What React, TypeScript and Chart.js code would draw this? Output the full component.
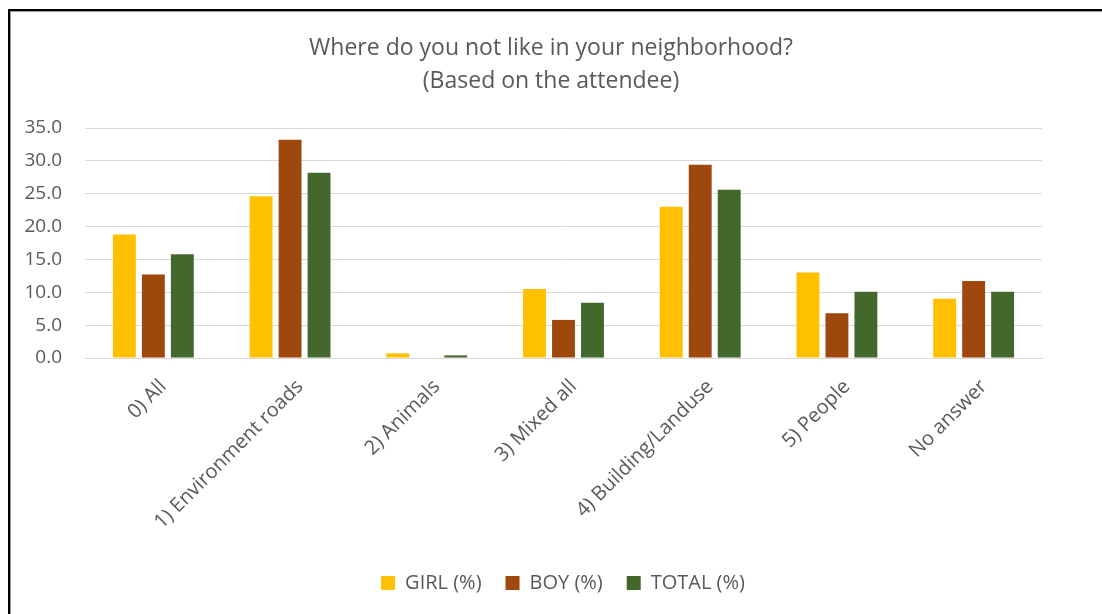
import React, { useEffect, useRef } from "react";
import { Chart, registerables } from "chart.js";

Chart.register(...registerables);

const categories = [
  "0) All",
  "1) Environment roads",
  "2) Animals",
  "3) Mixed all",
  "4) Building/Landuse",
  "5) People",
  "No answer",
];
const girlValues = [18.8, 24.6, 0.7, 10.5, 23.0, 13.0, 9.0];
const boyValues = [12.7, 33.2, 0, 5.8, 29.4, 6.8, 11.7];
const totalValues = [15.8, 28.2, 0.4, 8.4, 25.6, 10.1, 10.1];
const seriesNames = ["GIRL (%)", "BOY (%)", "TOTAL (%)"];
const titleLines = ["Where do you not like in your neighborhood?", "(Based on the attendee)"];

const FONT = "'Open Sans', 'DejaVu Sans', sans-serif";
const TEXT = "#595959";

const shiftLegend = {
  id: "shiftLegend",
  afterLayout(chart: any) {
    const lg = chart.legend;
    if (lg) {
      lg.left += 12;
      lg.right += 12;
    }
  },
};

export default function App() {
  const ref = useRef<HTMLCanvasElement | null>(null);

  useEffect(() => {
    if (!ref.current) return;
    const chart = new Chart(ref.current, {
      type: "bar",
      data: {
        labels: categories,
        datasets: [
          { label: seriesNames[0], data: girlValues, backgroundColor: "#FFC000" },
          { label: seriesNames[1], data: boyValues, backgroundColor: "#9E480E" },
          { label: seriesNames[2], data: totalValues, backgroundColor: "#43682B" },
        ],
      },
      plugins: [shiftLegend],
      options: {
        animation: false,
        responsive: false,
        devicePixelRatio: 1,
        layout: { padding: { left: 0, right: 0, top: 0, bottom: 11 } },
        datasets: {
          bar: { categoryPercentage: 0.636, barPercentage: 0.79 },
        },
        plugins: {
          title: {
            display: true,
            text: titleLines,
            color: TEXT,
            font: { family: FONT, size: 23, weight: "normal", lineHeight: 1.435 },
            padding: { top: 32, bottom: 30 },
          },
          legend: {
            position: "bottom",
            labels: {
              color: TEXT,
              font: { family: FONT, size: 20 },
              boxWidth: 14,
              boxHeight: 14,
              padding: 24,
            },
          },
          tooltip: { enabled: false },
        },
        scales: {
          x: {
            grid: { display: false },
            border: { display: true, color: "#D9D9D9", width: 1 },
            ticks: {
              color: TEXT,
              font: { family: FONT, size: 20 },
              minRotation: 45,
              maxRotation: 45,
              autoSkip: false,
              padding: 9,
              labelOffset: 10,
            },
            afterFit: (s: any) => {
              s.height = 191;
            },
          },
          y: {
            min: 0,
            max: 35,
            grid: { color: "#D9D9D9", lineWidth: 1, drawTicks: false },
            border: { display: false },
            ticks: {
              stepSize: 5,
              color: TEXT,
              font: { family: FONT, size: 19 },
              padding: 23,
              callback: (v: any) => Number(v).toFixed(1),
            },
            afterFit: (s: any) => {
              s.width = 85;
            },
          },
          y2: {
            position: "right",
            display: true,
            grid: { display: false, drawTicks: false },
            border: { display: false },
            ticks: { display: false },
            afterFit: (s: any) => {
              s.width = 60;
            },
          },
        },
      },
    });
    return () => chart.destroy();
  }, []);

  return (
    <>
      <div
        style={{
          position: "fixed",
          left: 8,
          top: 9,
          width: 1100,
          height: 610,
          borderLeft: "2px solid #000",
          borderTop: "2px solid #000",
          boxShadow: "inset 1px 1px 0 #999",
          background: "#fff",
        }}
      />
      <canvas
        ref={ref}
        width={1102}
        height={614}
        style={{ position: "fixed", left: 0, top: 0, width: 1102, height: 614 }}
      />
    </>
  );
}
